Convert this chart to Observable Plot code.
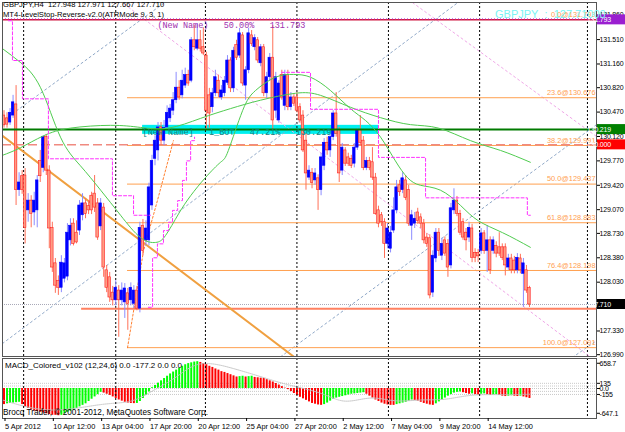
<!DOCTYPE html>
<html><head><meta charset="utf-8">
<script src="https://cdn.jsdelivr.net/npm/d3@7"></script>
<script src="https://cdn.jsdelivr.net/npm/@observablehq/plot@0.6"></script>
<style>
body{margin:0;background:#fff;}
#wrap{position:relative;width:625px;height:432px;overflow:hidden;background:#fff;font-family:"Liberation Sans",Arial,sans-serif;}
#main,#macd{position:absolute;left:0;}
#main{top:0}
#macd{top:357px}
.t{position:absolute;white-space:nowrap;line-height:10px;color:#000;}
</style></head>
<body><div id="wrap"><div id="main"></div><div id="macd"></div>
<div class="t" style="left:3px;top:0px;font-size:7.6px;">GBPJPY,H4&nbsp; 127.948 127.971 127.667 127.710</div>
<div class="t" style="left:3px;top:10px;font-size:7.6px;">MT4-LevelStop-Reverse-v2.0(ATRMode 9, 3, 1)</div>
<div class="t" style="left:495px;top:9px;font-size:11px;color:#7af4f4;">GBPJPY&nbsp; : &nbsp;127.71000</div>
<div class="t" style="left:5px;top:361px;font-size:8px;">MACD_Colored_v102 (12,24,6) 0.0 -177.2 0.0 0.0</div>
<div class="t" style="left:3px;top:408px;font-size:8.2px;">Brocq Trader, © 2001-2012, MetaQuotes Software Corp.</div>
</div>
<script>
// ---------- candle data (GBPJPY H4) ----------
const open = [
130.42,130.38,130.32,130.42,130.58,129.35,129.55,129.56,129.06,129.20,
129.03,129.06,129.77,129.67,130.11,129.63,128.81,128.30,128.05,127.95,
128.08,128.11,128.63,128.87,128.74,128.77,128.99,129.16,129.12,129.27,
129.30,129.16,128.83,129.10,128.20,128.10,127.88,127.77,127.91,127.77,
127.74,127.87,127.77,127.72,127.91,127.65,128.84,128.63,128.63,129.13,
129.80,129.92,130.25,130.06,130.25,130.38,130.49,130.64,130.82,130.71,
130.85,131.00,130.92,131.50,131.38,131.50,131.40,131.28,130.71,130.54,
130.74,130.92,130.68,130.74,130.89,131.21,130.81,131.43,131.28,131.57,
130.85,131.07,131.57,131.40,131.50,131.17,131.40,130.74,130.97,131.25,
130.49,130.35,131.00,130.56,131.00,130.54,130.68,130.68,130.54,130.42,
130.06,129.53,129.60,129.49,129.52,129.35,129.70,130.03,129.92,130.11,
130.45,130.21,129.63,129.92,129.82,129.80,129.73,129.96,130.21,130.06,
129.67,129.77,129.75,129.53,129.06,128.99,128.89,128.58,128.51,128.77,
129.06,129.42,129.35,129.49,129.35,128.84,128.87,129.03,128.96,128.87,
128.67,128.66,127.88,128.37,128.74,128.41,128.63,128.58,128.27,129.06,
129.20,129.01,128.89,128.74,128.67,128.80,128.45,128.45,128.48,128.73,
128.48,128.63,128.48,128.55,128.53,128.53,128.53,128.24,128.37,128.34,
128.20,128.37,128.15,128.20,127.948];
const high = [
130.49,130.46,130.52,130.71,130.85,129.60,129.63,129.66,129.30,129.27,
129.32,129.56,129.92,130.13,130.15,129.70,128.89,128.37,128.12,128.41,
128.37,128.87,128.94,128.94,128.91,129.20,129.30,129.23,129.20,129.32,
129.56,129.23,129.23,129.16,128.27,128.17,127.97,128.05,127.98,128.02,
128.01,127.94,128.02,127.98,127.97,128.89,128.93,128.91,129.45,129.85,
130.13,130.32,130.32,130.35,130.56,130.58,130.75,131.04,130.92,131.07,
131.10,131.07,131.54,131.71,131.74,131.64,131.68,131.33,130.81,130.81,
131.07,131.00,130.85,130.98,131.28,131.25,131.40,131.50,131.67,131.61,
131.12,131.67,131.64,131.58,131.54,131.44,131.44,131.04,131.31,131.71,
131.04,130.92,131.07,131.07,131.07,130.75,130.72,130.75,130.59,130.49,
130.16,129.70,129.66,129.66,129.57,129.88,130.09,130.11,130.16,130.49,
130.75,130.25,130.02,129.96,129.88,129.85,130.02,130.24,130.42,130.12,
129.82,129.82,129.96,129.59,129.12,129.03,128.94,128.87,128.83,129.24,
129.49,129.49,129.60,129.56,129.42,129.06,129.03,129.09,129.01,128.93,
128.73,128.71,128.48,128.80,128.80,128.66,128.68,128.64,129.16,129.37,
129.26,129.06,128.94,128.80,128.89,128.86,128.51,128.50,128.80,128.77,
128.84,128.68,128.68,128.61,128.74,128.58,128.58,128.43,128.43,128.40,
128.44,128.43,128.37,128.27,127.971];
const low = [
130.24,130.24,130.28,130.38,129.13,129.26,129.29,128.58,128.89,128.81,
128.84,128.81,129.46,129.60,129.56,128.51,128.17,127.87,127.84,127.88,
128.02,128.05,128.55,128.55,128.58,128.70,128.91,128.94,129.00,129.00,
129.03,128.63,128.77,128.10,127.88,127.74,127.69,127.69,127.24,127.69,
127.51,127.34,127.69,127.65,127.62,127.59,128.41,128.55,128.55,129.06,
129.70,129.77,129.99,129.99,130.21,130.32,130.42,130.59,130.64,130.66,
130.81,130.84,130.89,131.35,131.35,131.33,131.28,130.21,130.24,130.46,
130.69,130.68,130.64,130.69,130.85,130.75,130.75,131.21,131.24,130.84,
130.64,131.02,131.41,131.35,131.17,131.12,130.69,130.66,130.92,130.21,
130.38,130.31,130.64,130.49,130.49,130.49,130.55,130.46,130.31,129.89,
129.35,129.49,129.37,129.42,129.06,129.27,129.63,129.85,129.82,130.06,
130.11,129.46,129.56,129.69,129.69,129.66,129.67,129.92,129.99,129.63,
129.63,129.63,129.49,128.99,128.81,128.83,128.37,128.51,128.45,128.73,
129.01,129.26,129.30,129.20,128.83,128.63,128.80,128.86,128.80,128.58,
128.53,127.79,127.81,128.31,128.40,128.34,128.40,128.10,128.22,129.00,
128.97,128.70,128.63,128.48,128.60,128.31,128.31,128.31,128.43,128.43,
128.17,128.14,128.43,128.38,128.40,128.34,128.12,128.20,128.15,128.15,
128.15,128.15,127.67,127.87,127.667];
const close = [
130.28,130.29,130.46,130.61,129.35,129.46,129.35,128.81,129.20,129.01,
129.20,129.49,129.55,130.11,129.63,128.80,128.24,127.98,127.95,128.31,
128.30,128.74,128.84,128.58,128.60,129.13,129.16,129.01,129.06,129.06,
129.10,128.67,129.16,128.24,127.95,127.81,127.77,127.95,127.77,127.91,
127.94,127.72,127.95,127.91,127.65,128.81,128.48,128.80,129.39,129.77,
130.06,130.25,130.06,130.24,130.46,130.52,130.64,130.82,130.68,130.92,
131.00,130.88,131.50,131.40,131.50,131.38,131.31,130.49,130.45,130.74,
130.97,130.74,130.78,130.92,131.21,130.81,131.35,131.25,131.60,130.88,
131.07,131.60,131.45,131.53,131.21,131.40,130.74,130.97,131.25,130.35,
130.97,130.88,130.68,131.00,130.54,130.68,130.59,130.49,130.35,129.92,
129.59,129.63,129.45,129.59,129.35,129.82,130.03,129.92,130.11,130.45,
130.16,129.59,129.96,129.73,129.73,129.70,129.96,130.21,130.03,129.67,
129.77,129.67,129.53,129.01,128.87,128.89,128.58,128.80,128.74,129.06,
129.39,129.32,129.52,129.24,128.87,128.99,128.94,128.91,128.87,128.63,
128.58,127.84,128.41,128.74,128.48,128.58,128.44,128.24,129.09,129.20,
129.01,128.74,128.67,128.63,128.81,128.38,128.38,128.40,128.73,128.48,
128.63,128.20,128.63,128.44,128.44,128.38,128.27,128.37,128.20,128.20,
128.38,128.20,128.30,127.91,127.710];

// MACD histogram (per bar)
const macd = [
-420,-400,-390,-380,-370,-360,
-420,-480,-520,-560,-590,-600,-620,-640,-660,-680,-700,
-700,-710,-700,
-660,-620,-590,-560,-520,-480,-440,-400,-340,-280,-220,-160,-100,
-120,-150,-180,-220,-260,-300,-330,-360,-380,-390,-395,-390,
-340,-260,-180,-90,
20,80,140,200,260,320,380,430,480,530,580,620,650,670,
690,700,
680,650,620,580,550,510,480,440,420,390,360,330,300,
310,320,300,310,320,290,280,270,260,
230,200,170,130,90,50,10,-30,-80,-130,-180,-230,-270,-310,-350,-390,-410,-430,-440,
-420,-380,-330,-280,
-250,-230,-210,-190,-170,-150,-140,-130,-120,-110,
-150,-200,-250,-300,-340,-380,-410,-430,-440,-440,-420,-400,-380,-360,-330,-300,
-310,-330,-360,-390,-410,-430,-440,-400,-350,-300,-250,-200,
-160,-120,-100,-90,-110,-130,-150,-140,-160,-170,-150,-140,-160,-180,-170,-160,-180,-200,-210,-200,-190,-200,-210,-200,-220,-240,-260];
// MACD signal line (bar index, value)
const sigBar = [-0.5,15.4,32,42,49.5,57,65,76,87,95,105,113,121.4,129.6,138,146,154.5,164.4,174.3];
const sigVal = [-300,-560,-420,-330,-50,300,640,520,260,80,-130,-330,-250,-320,-300,-280,-180,-160,-150];

// moving averages (bar index, price)
const maFastBar = [-0.5,5.5,12.1,18.7,25.3,32,38.6,45.2,50.2,53.5,57.8,61.8,66.7,71.7,74.3,79,83.3,89.9,95.9,101.5,108.1,114.7,119.7,124.7,129.6,133.6,137.9,144.5,151.2,157.1,165.1,174.3];
const maFastPrice = [131.38,131.18,130.82,130.11,129.70,129.35,128.99,128.67,128.60,128.70,129.01,129.27,129.53,129.75,129.92,130.49,130.78,130.97,131.01,130.97,130.78,130.52,130.35,130.11,129.77,129.53,129.42,129.35,129.13,128.91,128.74,128.53];
const maSlowBar = [-0.5,5.5,13.1,22,35.3,45.2,54.5,65.1,75,84.9,96.5,104.8,114.7,124.7,134.6,143.9,154.5,164.4,174.3];
const maSlowPrice = [129.85,129.96,130.13,130.24,130.28,130.25,130.24,130.38,130.52,130.64,130.74,130.71,130.54,130.39,130.29,130.24,130.06,129.92,129.75];

// LevelStop-Reverse stop levels (bar index where level starts, level)
const stopABar = [1.5,2.8,6.1,14.7,35.9,42.9,48.5];
const stopAPrice = [131.78,131.21,130.66,129.80,129.27,128.99,128.99];
const stopBBar = [47.8,49.2,50.8,52.8,54.5,55.8,57.5,59.1,60.4,61.8,63.1];
const stopBPrice = [127.67,128.38,128.58,128.77,128.89,129.06,129.20,129.49,129.77,130.06,130.11];
const stopCBar = [91.9,101.5,124,139.6,173.3,174.3];
const stopCPrice = [131.04,130.51,129.82,129.24,128.99,128.99];

// Fibonacci retracement
const fibPct = [0,23.6,38.2,50,61.8,76.4,100];
const fibPrice = [131.793,130.676,129.991,129.437,128.883,128.198,127.091];
const fibStartBar = 40.9;
const fibDiagBar = [40.9,46.2,50.8,56.1];
const fibDiagPrice = [127.09,128.48,129.20,130.06];

// trend lines: [bar1, price1, bar2, price2]
const orangeTrend = [-0.5,130.13,96.9,126.93];
const blueLines = [[-1.2,130.32,54.1,132.07],[-0.5,127.15,151.2,132.07],[91.6,126.96,196.2,130.29],[188.2,126.95,196.2,127.19]];
const pinkLines = [[38.6,132.06,196.2,126.89],[135.3,132.04,196.2,130.12]];

// horizontal objects
const topLevel = 131.793, greenLevel = 130.219, redLevel = 130.000, lastPrice = 127.710;
const lowLineStart = 25.7, lowLine = 127.65;
const boxBars = [45.9,124], boxPrices = [130.15,130.28];
const annoTexts = ["(New Name)   50.00%   131.793","[New Name]   1_BOT   47.21%   130.219"];
const annoBars = [50.8,45.9];
const annoPrices = [131.793,130.219];

// axes
const priceTicks = [131.86,131.51,131.16,130.82,130.47,130.12,129.77,129.42,129.07,128.73,128.38,128.03,127.68,127.33,126.99];
const markerPrices = [131.793,130.219,130.000,127.710];
const markerColors = ["#9a1fd0","#008000","#ff0000","#000000"];
const dateBars = [0,16,32,48,64,80,96,112,128,144,160];
const dateLabels = ["5 Apr 2012","10 Apr 12:00","13 Apr 04:00","17 Apr 20:00","20 Apr 12:00","25 Apr 04:00","27 Apr 20:00","2 May 12:00","7 May 04:00","9 May 20:00","14 May 12:00"];
const gridBars = [6.5,37,66.7,97,127.3,157.5,193.2];
const macdTicks = [658.7,135,0,-155,-647.1];
const macdTickLabels = ["658.7","135","0.0","-155","-647.1"];
const macdLevels = [135,65,0,-75,-155];

// ---------- build ----------
const xDomain = [-0.5, 196.2];
const yDomain = [126.964, 132.042];
const candles = close.map((c,i)=>({i,o:open[i],h:high[i],l:low[i],c,up:c>=open[i]}));
const mk = (bars,prices)=>bars.map((b,k)=>({b,p:prices[k]}));
const seg = arr => [{b:arr[0],p:arr[1]},{b:arr[2],p:arr[3]}];
const fibs = fibPct.map((q,k)=>({q,p:fibPrice[k],label:q.toFixed(1)+"@"+fibPrice[k].toFixed(3)}));
const tickMap = new Map(dateBars.map((b,k)=>[b,dateLabels[k]]));
const fs = "7.4px", afs = "7px";

const lineMarks = [];
blueLines.forEach(l=>lineMarks.push(Plot.line(seg(l),{x:"b",y:"p",stroke:"#8fa8c8",strokeDasharray:"2,3",strokeWidth:1,clip:true})));
pinkLines.forEach(l=>lineMarks.push(Plot.line(seg(l),{x:"b",y:"p",stroke:"#f0a8e8",strokeDasharray:"2,3",strokeWidth:1,clip:true})));

const main = Plot.plot({
  width:625, height:358, marginLeft:2, marginRight:29, marginTop:2, marginBottom:2,
  x:{domain:xDomain, axis:null},
  y:{domain:yDomain, axis:null},
  style:{background:"transparent", fontFamily:"Liberation Sans, Arial, sans-serif"},
  marks:[
    Plot.rect([0],{x1:()=>boxBars[0],x2:()=>boxBars[1],y1:()=>boxPrices[0],y2:()=>boxPrices[1],fill:"#00f0f0"}),
    Plot.ruleX(gridBars,{stroke:"#000",strokeDasharray:"2,2",strokeWidth:1}),
    ...lineMarks,
    Plot.ruleY(fibs.slice(1),{y:"p",x1:fibStartBar,x2:xDomain[1],stroke:"#ffa050",strokeWidth:1}),
    Plot.ruleY([redLevel],{stroke:"#f08a80",strokeDasharray:"9,4",strokeWidth:1.5}),
    Plot.ruleY([lastPrice],{stroke:"#a8a8b8",strokeDasharray:"1,1",strokeWidth:1}),
    Plot.ruleY([lowLine],{x1:lowLineStart,x2:xDomain[1],stroke:"#ff8060",strokeWidth:2}),
    Plot.line(seg(orangeTrend),{x:"b",y:"p",stroke:"#f0a040",strokeWidth:2,clip:true}),
    Plot.line(mk(fibDiagBar,fibDiagPrice),{x:"b",y:"p",stroke:"#ff8030",strokeDasharray:"2,2",strokeWidth:1,clip:true}),
    Plot.ruleX(candles,{x:"i",y1:"l",y2:"h",stroke:d=>d.up?"#8c8cff":"#ff7058",strokeWidth:1}),
    Plot.rect(candles,{x1:d=>d.i-0.42,x2:d=>d.i+0.42,y1:"o",y2:"c",fill:d=>d.up?"#0000ff":"#ff9c84",stroke:d=>d.up?"#0000ff":"#ff2020",strokeWidth:0.6}),
    Plot.ruleY([greenLevel],{stroke:"#007a00",strokeWidth:2}),
    Plot.ruleY([topLevel],{stroke:"#d01840",strokeWidth:1.5}),
    Plot.ruleY([topLevel],{stroke:"#b040e0",strokeDasharray:"1,2",strokeWidth:1,dy:-1}),
    Plot.line(mk(maFastBar,maFastPrice),{x:"b",y:"p",stroke:"#50cc50",strokeWidth:1,curve:"natural",clip:true}),
    Plot.line(mk(maSlowBar,maSlowPrice),{x:"b",y:"p",stroke:"#50cc50",strokeWidth:1,curve:"natural",clip:true}),
    Plot.line(mk(stopABar,stopAPrice),{x:"b",y:"p",curve:"step-after",stroke:"#ff30ff",strokeDasharray:"3,2",strokeWidth:1,clip:true}),
    Plot.line(mk(stopBBar,stopBPrice),{x:"b",y:"p",curve:"step-after",stroke:"#ff30ff",strokeDasharray:"3,2",strokeWidth:1,clip:true}),
    Plot.line(mk(stopCBar,stopCPrice),{x:"b",y:"p",curve:"step-after",stroke:"#ff30ff",strokeDasharray:"3,2",strokeWidth:1,clip:true}),
    Plot.text(fibs,{x:xDomain[1],y:"p",text:"label",textAnchor:"end",dx:-1,dy:-5,fill:"#ffa050",fontSize:fs}),
    Plot.text([0],{x:()=>annoBars[0],y:()=>annoPrices[0],text:()=>annoTexts[0],textAnchor:"start",dy:5,fill:"#a030b0",fontSize:"8.5px",fontFamily:"Liberation Mono"}),
    Plot.text([0],{x:()=>annoBars[1],y:()=>annoPrices[1],text:()=>annoTexts[1],textAnchor:"start",dy:3,fill:"#118080",fontSize:"8.5px",fontFamily:"Liberation Mono"}),
    Plot.frame({stroke:"#555"}),
    Plot.axisY(priceTicks,{anchor:"right",tickSize:3,tickPadding:0,tickFormat:d=>d.toFixed(3),fontSize:afs,stroke:"#000"})
  ]
});
document.getElementById("main").appendChild(main);

// price marker boxes on the right scale
const ys = main.scale("y");
const svgM = d3.select(main);
markerPrices.forEach((p,k)=>{
  const y = ys.apply(p);
  const g = svgM.append("g");
  g.append("rect").attr("x",597).attr("y",y-5).attr("width",28).attr("height",10).attr("fill",markerColors[k]);
  g.append("text").attr("x",599).attr("y",y+3).attr("fill","#fff").attr("font-size",afs).attr("letter-spacing","-0.2").attr("font-family","Liberation Sans, Arial").text(p.toFixed(3));
});

const hist = macd.map((v,i)=>({i,v,up: i>0 && v>macd[i-1]}));
const macdPlot = Plot.plot({
  width:625, height:75, marginLeft:2, marginRight:29, marginTop:1, marginBottom:14,
  x:{domain:xDomain, axis:null},
  y:{domain:[-783,783], axis:null},
  style:{background:"transparent", fontFamily:"Liberation Sans, Arial, sans-serif"},
  marks:[
    Plot.ruleY(macdLevels,{stroke:"#c8c8c8",strokeDasharray:"1,1"}),
    Plot.ruleX(hist,{x:"i",y1:0,y2:"v",stroke:d=>d.up?"#00ff00":"#ff0000",strokeWidth:2}),
    Plot.line(mk(sigBar,sigVal),{x:"b",y:"p",stroke:"#c4c4c4",strokeDasharray:"1,1",strokeWidth:1,curve:"natural",clip:true}),
    Plot.ruleX(gridBars,{stroke:"#000",strokeDasharray:"2,2",strokeWidth:1}),
    Plot.frame({stroke:"#555"}),
    Plot.axisY(macdTicks,{anchor:"right",tickSize:3,tickPadding:0,tickFormat:(d)=>macdTickLabels[macdTicks.indexOf(d)],fontSize:afs}),
    Plot.axisX(dateBars,{anchor:"bottom",tickSize:3,tickPadding:2,tickFormat:d=>tickMap.get(d),textAnchor:"start",dx:1,fontSize:fs})
  ]
});
document.getElementById("macd").appendChild(macdPlot);
d3.selectAll("svg [aria-label='y-axis tick label'] text").attr("letter-spacing","-0.2");
</script>
</body></html>
